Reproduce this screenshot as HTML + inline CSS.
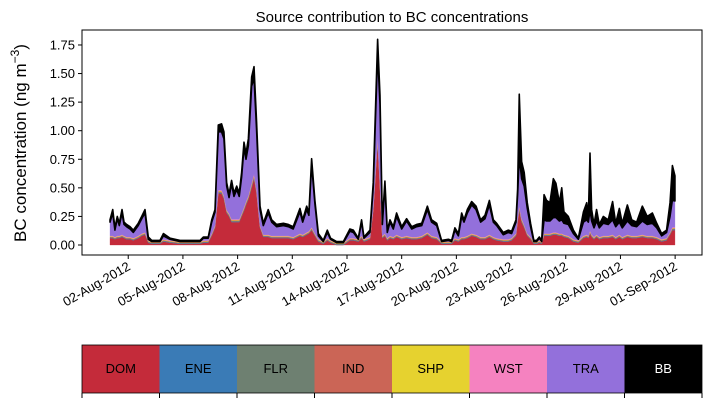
<!DOCTYPE html>
<html><head><meta charset="utf-8"><style>
html,body{margin:0;padding:0;background:#fff;}
svg{display:block;font-family:"Liberation Sans","DejaVu Sans",sans-serif;}
</style></head><body>
<svg id="chart" width="712" height="402" viewBox="0 0 712 402">
<text x="392" y="22" text-anchor="middle" font-size="15">Source contribution to BC concentrations</text>
<g id="areas"></g>
<rect x="82" y="30" width="620" height="225" fill="none" stroke="#000" stroke-width="1"/>
<g id="yaxis"></g>
<g id="xaxis"></g>
<text transform="translate(26,143) rotate(-90)" text-anchor="middle" font-size="17">BC concentration (ng m<tspan font-size="12" dy="-7">−3</tspan><tspan dy="7">)</tspan></text>
<g id="cbar"></g>
</svg>
<script>
const days=[0,0.15,0.27,0.40,0.51,0.66,0.77,0.91,1.10,1.28,1.55,1.74,1.92,2.10,2.29,2.74,2.93,3.29,3.84,4.57,4.94,5.12,5.39,5.58,5.76,5.94,6.12,6.25,6.40,6.53,6.67,6.80,6.95,7.09,7.22,7.35,7.46,7.59,7.77,7.90,8.04,8.23,8.41,8.68,8.87,9.14,9.51,9.78,10.05,10.42,10.57,10.79,10.91,11.06,11.24,11.43,11.70,11.92,12.10,12.43,12.80,13.16,13.35,13.62,13.80,13.93,14.26,14.44,14.68,14.81,14.94,15.08,15.21,15.36,15.54,
15.72,16.00,16.27,16.55,16.82,17.10,17.41,17.64,17.92,18.19,18.56,18.74,18.92,19.11,19.29,19.42,19.60,19.84,20.08,20.33,20.57,20.81,21.03,21.21,21.57,21.85,22.03,22.27,22.36,22.45,22.58,22.72,22.89,23.07,23.25,23.40,23.55,23.68,23.81,23.95,24.13,24.32,24.46,24.65,24.78,24.90,25.14,25.42,25.69,25.97,26.15,26.24,26.33,26.42,26.55,26.69,26.84,27.06,27.33,27.57,27.74,27.94,28.10,28.38,28.62,28.89,29.20,29.47,29.75,29.99,30.26,30.53,30.72,30.85,30.99];
const dom=[0.06,0.06,0.05,0.06,0.06,0.07,0.06,0.05,0.05,0.04,0.06,0.08,0.09,0.02,0.01,0.01,0.03,0.02,0.01,0.01,0.01,0.02,0.02,0.08,0.15,0.45,0.45,0.40,0.28,0.25,0.20,0.20,0.20,0.20,0.25,0.30,0.35,0.40,0.50,0.58,0.45,0.15,0.07,0.07,0.06,0.06,0.06,0.06,0.05,0.08,0.07,0.09,0.10,0.13,0.08,0.03,0.01,0.04,0.02,0.00,0.00,0.04,0.04,0.03,0.06,0.03,0.05,0.30,0.90,0.50,0.06,0.08,0.04,0.06,0.05,
0.07,0.05,0.06,0.05,0.05,0.06,0.09,0.06,0.05,0.01,0.01,0.01,0.04,0.03,0.05,0.05,0.06,0.08,0.07,0.05,0.05,0.07,0.05,0.04,0.03,0.03,0.04,0.08,0.20,0.30,0.20,0.15,0.08,0.05,0.01,0.01,0.02,0.01,0.08,0.08,0.08,0.09,0.09,0.08,0.08,0.07,0.06,0.03,0.02,0.06,0.07,0.06,0.10,0.07,0.05,0.07,0.05,0.06,0.06,0.07,0.05,0.07,0.05,0.07,0.06,0.06,0.07,0.06,0.06,0.05,0.03,0.04,0.09,0.13,0.13];
const ene=[0.004,0.004,0.004,0.004,0.004,0.004,0.004,0.004,0.004,0.004,0.004,0.004,0.004,0.004,0.004,0.004,0.004,0.004,0.004,0.004,0.004,0.004,0.004,0.004,0.004,0.006,0.006,0.006,0.005,0.005,0.005,0.005,0.005,0.005,0.005,0.006,0.006,0.006,0.008,0.008,0.006,0.004,0.004,0.004,0.004,0.004,0.004,0.004,0.004,0.004,0.004,0.004,0.004,0.005,0.004,0.004,0.004,0.004,0.004,0.004,0.004,0.004,0.004,0.004,0.004,0.004,0.004,0.005,0.008,0.006,0.004,0.004,0.004,0.004,0.004,
0.004,0.004,0.004,0.004,0.004,0.004,0.004,0.004,0.004,0.004,0.004,0.004,0.004,0.004,0.004,0.004,0.004,0.004,0.004,0.004,0.004,0.004,0.004,0.004,0.004,0.004,0.004,0.004,0.006,0.008,0.006,0.005,0.004,0.004,0.004,0.004,0.004,0.004,0.004,0.004,0.004,0.004,0.004,0.004,0.004,0.004,0.004,0.004,0.004,0.004,0.004,0.004,0.005,0.004,0.004,0.004,0.004,0.004,0.004,0.004,0.004,0.004,0.004,0.004,0.004,0.004,0.004,0.004,0.004,0.004,0.004,0.004,0.004,0.005,0.005];
const flr=ene.slice();
const ind=ene.slice();
const shp=ene.slice();
const wst=ene.slice();
const tra=[0.12,0.20,0.06,0.15,0.09,0.19,0.10,0.09,0.07,0.05,0.09,0.13,0.17,0.01,0.00,0.00,0.03,0.01,0.00,0.00,0.00,0.02,0.02,0.10,0.12,0.51,0.51,0.50,0.21,0.14,0.31,0.20,0.26,0.20,0.32,0.52,0.37,0.44,0.85,0.84,0.53,0.14,0.08,0.19,0.12,0.08,0.09,0.08,0.07,0.19,0.11,0.20,0.14,0.55,0.26,0.03,0.00,0.05,0.01,0.00,0.00,0.06,0.05,0.00,0.12,0.01,0.04,0.18,0.74,0.70,0.10,0.42,0.05,0.12,0.07,
0.16,0.07,0.13,0.07,0.09,0.09,0.20,0.12,0.10,0.00,0.01,0.00,0.07,0.03,0.18,0.13,0.20,0.25,0.22,0.13,0.16,0.26,0.13,0.11,0.04,0.06,0.04,0.10,0.21,0.43,0.35,0.34,0.22,0.09,0.00,0.00,0.02,0.00,0.12,0.11,0.11,0.13,0.13,0.11,0.12,0.10,0.10,0.05,0.01,0.12,0.13,0.12,0.18,0.12,0.08,0.12,0.08,0.11,0.10,0.13,0.09,0.11,0.08,0.12,0.09,0.08,0.12,0.10,0.11,0.08,0.03,0.05,0.14,0.24,0.23];
const bb=[0.02,0.03,0.02,0.02,0.02,0.03,0.02,0.02,0.02,0.02,0.02,0.02,0.03,0.02,0.01,0.01,0.02,0.01,0.01,0.01,0.01,0.01,0.01,0.02,0.02,0.06,0.07,0.06,0.03,0.03,0.03,0.03,0.03,0.03,0.04,0.05,0.05,0.06,0.08,0.10,0.07,0.03,0.02,0.03,0.02,0.02,0.02,0.02,0.02,0.03,0.02,0.03,0.02,0.05,0.03,0.02,0.01,0.02,0.01,0.01,0.01,0.02,0.02,0.01,0.02,0.01,0.02,0.04,0.12,0.08,0.02,0.04,0.02,0.02,0.02,
0.03,0.02,0.02,0.02,0.02,0.02,0.03,0.02,0.02,0.01,0.01,0.01,0.02,0.02,0.03,0.02,0.03,0.03,0.03,0.02,0.03,0.04,0.02,0.02,0.02,0.02,0.02,0.02,0.05,0.55,0.15,0.12,0.05,0.03,0.01,0.01,0.01,0.01,0.22,0.18,0.16,0.34,0.30,0.16,0.28,0.10,0.07,0.03,0.01,0.09,0.15,0.05,0.50,0.10,0.03,0.10,0.03,0.06,0.04,0.16,0.03,0.12,0.04,0.14,0.05,0.04,0.13,0.07,0.09,0.04,0.02,0.02,0.12,0.30,0.22];
const sources=["DOM","ENE","FLR","IND","SHP","WST","TRA","BB"];
const colors=["#c42b3a","#3a7bb6","#6e8071","#cb6556","#e6d22f","#f582c0","#9370db","#000000"];
const yTicks=[0,0.25,0.5,0.75,1.0,1.25,1.5,1.75];
const xTickDays=[1,4,7,10,13,16,19,22,25,28,31];
const xTickLabels=["02-Aug-2012","05-Aug-2012","08-Aug-2012","11-Aug-2012","14-Aug-2012","17-Aug-2012","20-Aug-2012","23-Aug-2012","26-Aug-2012","29-Aug-2012","01-Sep-2012"];

const NS="http://www.w3.org/2000/svg";
function xS(d){return 110+d*18.23;}
function yS(v){return 245-v*114.3;}
function mk(tag,attrs,parent){const e=document.createElementNS(NS,tag);for(const k in attrs)e.setAttribute(k,attrs[k]);parent.appendChild(e);return e;}

const series=[dom,ene,flr,ind,shp,wst,tra,bb];
const areas=document.getElementById("areas");
const n=days.length;
let base=new Array(n).fill(0);
series.forEach((s,si)=>{
  const top=base.map((b,i)=>b+(s[i]||0));
  let d="M"+days.map((t,i)=>xS(t).toFixed(2)+","+yS(top[i]).toFixed(2)).join(" L");
  for(let i=n-1;i>=0;i--)d+=" L"+xS(days[i]).toFixed(2)+","+yS(base[i]).toFixed(2);
  d+=" Z";
  const p=mk("path",{d:d,fill:colors[si],stroke:colors[si],"stroke-width":si===7?1.6:0.3,"stroke-linejoin":"round"},areas);
  
  
  base=top;
});

const ya=document.getElementById("yaxis");
yTicks.forEach(v=>{
  const y=yS(v);
  const l=mk("line",{x1:78,x2:82,y1:y,y2:y,stroke:"#000"},ya);
  
  
  const t=mk("text",{x:75,y:y+4.5,"text-anchor":"end","font-size":"13"},ya);
  t.textContent=v.toFixed(2);
  
  
});
const xa=document.getElementById("xaxis");
xTickDays.forEach((d,i)=>{
  const x=xS(d);
  const l=mk("line",{x1:x,x2:x,y1:255,y2:259,stroke:"#000"},xa);
  
  
  const t=mk("text",{transform:"translate("+(x+3)+",269) rotate(-30)","text-anchor":"end","font-size":"13"},xa);
  t.textContent=xTickLabels[i];
  
  
});

const cb=document.getElementById("cbar");
const w=620/sources.length;
sources.forEach((s,i)=>{
  const r=mk("rect",{x:82+i*w,y:345,width:w,height:48,fill:colors[i]},cb);
  
  
  const t=mk("text",{x:82+i*w+w/2,y:373,"text-anchor":"middle","font-size":"13",fill:i===7?"#fff":"#000"},cb);
  t.textContent=s;
  
  
});
for(let i=0;i<=sources.length;i++){
  const l=mk("line",{x1:82+i*w,x2:82+i*w,y1:393,y2:398,stroke:"#000"},cb);
  
  
}
const fr=mk("rect",{x:82,y:345,width:620,height:48,fill:"none",stroke:"#000","stroke-width":0.8},cb);


</script>
</body></html>
